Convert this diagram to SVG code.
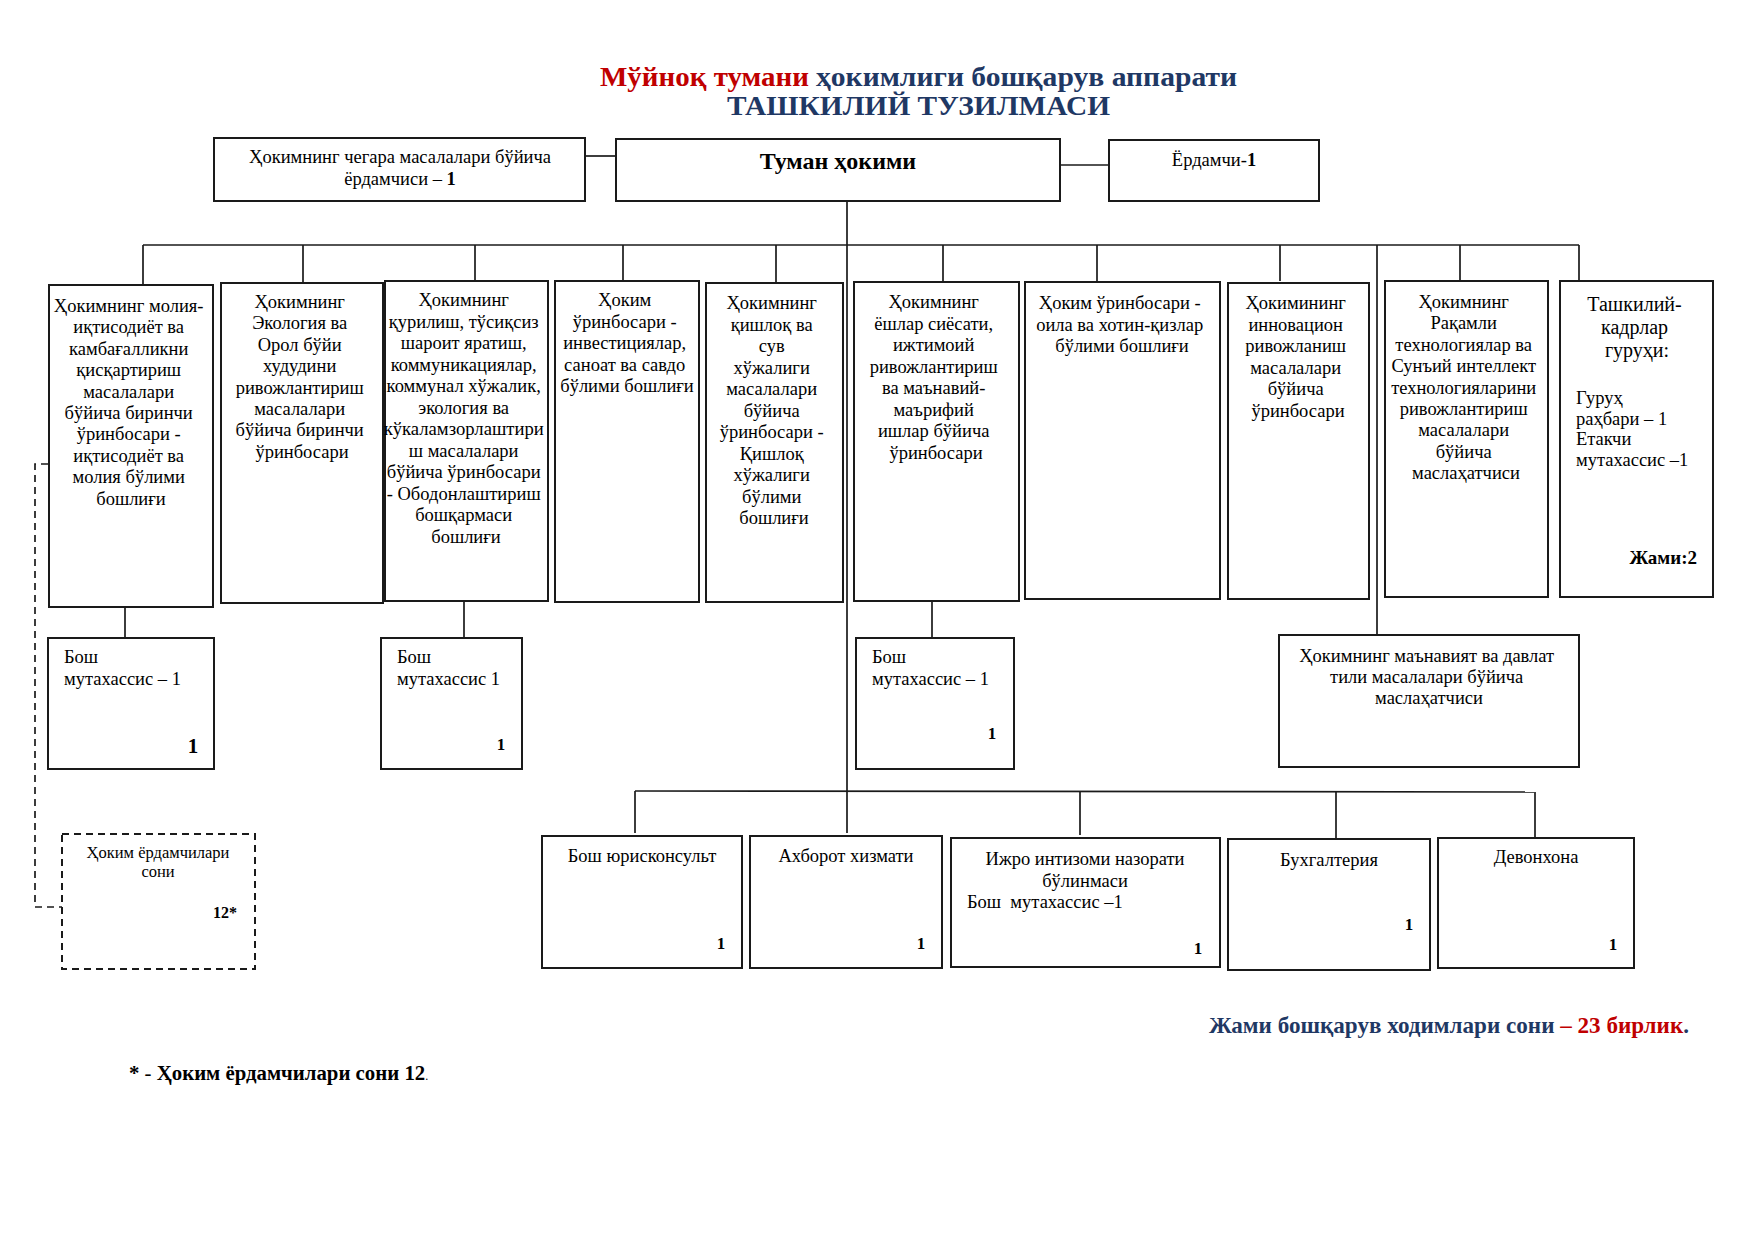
<svg xmlns="http://www.w3.org/2000/svg" width="1755" height="1241" viewBox="0 0 1755 1241">
<style>
.bx{fill:#fff;stroke:#1a1a1a;stroke-width:2}
.dbx{fill:#fff;stroke:#1a1a1a;stroke-width:2;stroke-dasharray:7 5}
.ln{fill:none;stroke:#1a1a1a;stroke-width:1.7}
.dl{fill:none;stroke:#1a1a1a;stroke-width:1.7;stroke-dasharray:7 5}
text{font-family:"Liberation Serif","Times New Roman",serif;fill:#000}
.t{font-size:18.5px}
.c{text-anchor:middle}
.b{font-weight:bold}
.navy{fill:#1F3864}
.red{fill:#C00000}
</style>
<rect width="1755" height="1241" fill="#fff"/>

<g id="title">
<text x="600" y="86" class="b red" font-size="28" textLength="209" lengthAdjust="spacingAndGlyphs">Мўйноқ тумани</text>
<text x="816" y="86" class="b navy" font-size="28" textLength="421" lengthAdjust="spacingAndGlyphs">ҳокимлиги бошқарув аппарати</text>
<text x="727" y="115" class="b navy" font-size="27" textLength="383" lengthAdjust="spacingAndGlyphs">ТАШКИЛИЙ ТУЗИЛМАСИ</text>
</g>

<g id="connectors">
<line class="ln" x1="585" y1="156" x2="616" y2="156"/>
<line class="ln" x1="1060" y1="165" x2="1109" y2="165"/>
<line class="ln" x1="847" y1="201" x2="847" y2="833"/>
<line class="ln" x1="143" y1="245" x2="1579" y2="245"/>
<line class="ln" x1="143" y1="245" x2="143" y2="285"/>
<line class="ln" x1="303" y1="245" x2="303" y2="283"/>
<line class="ln" x1="475" y1="245" x2="475" y2="281"/>
<line class="ln" x1="623" y1="245" x2="623" y2="281"/>
<line class="ln" x1="776" y1="245" x2="776" y2="283"/>
<line class="ln" x1="943" y1="245" x2="943" y2="282"/>
<line class="ln" x1="1097" y1="245" x2="1097" y2="282"/>
<line class="ln" x1="1280" y1="245" x2="1280" y2="281"/>
<line class="ln" x1="1377" y1="245" x2="1377" y2="635"/>
<line class="ln" x1="1460" y1="245" x2="1460" y2="281"/>
<line class="ln" x1="1579" y1="245" x2="1579" y2="281"/>
<line class="ln" x1="125" y1="607" x2="125" y2="638"/>
<line class="ln" x1="464" y1="601" x2="464" y2="638"/>
<line class="ln" x1="932" y1="601" x2="932" y2="638"/>
<line class="ln" x1="635" y1="791" x2="1534" y2="792"/>
<line class="ln" x1="635" y1="791" x2="635" y2="833"/>
<line class="ln" x1="1080" y1="791" x2="1080" y2="835"/>
<line class="ln" x1="1336" y1="791" x2="1336" y2="839"/>
<line class="ln" x1="1535" y1="792" x2="1535" y2="838"/>
<polyline class="dl" points="48,464 35,464 35,907 62,907"/>
</g>

<g id="n-chegara">
<rect class="bx" x="214" y="138" width="371" height="63"/>
<text class="t c" x="400" y="163">Ҳокимнинг чегара масалалари бўйича</text>
<text class="t c" x="400" y="185">ёрдамчиси – <tspan class="b">1</tspan></text>
</g>

<g id="n-hokim">
<rect class="bx" x="616" y="139" width="444" height="62"/>
<text class="c b" x="838" y="169" font-size="24">Туман ҳокими</text>
</g>

<g id="n-yordamchi">
<rect class="bx" x="1109" y="140" width="210" height="61"/>
<text class="t c" x="1214" y="166">Ёрдамчи-<tspan class="b">1</tspan></text>
</g>

<g id="n-moliya">
<rect class="bx" x="49" y="285" width="164" height="322"/>
<text class="t c" y="312">
<tspan x="131">Ҳокимнинг молия-</tspan>
<tspan x="131" dy="21.4">иқтисодиёт ва</tspan>
<tspan x="131" dy="21.4">камбағалликни</tspan>
<tspan x="131" dy="21.4">қисқартириш</tspan>
<tspan x="131" dy="21.4">масалалари</tspan>
<tspan x="131" dy="21.4">бўйича биринчи</tspan>
<tspan x="131" dy="21.4">ўринбосари -</tspan>
<tspan x="131" dy="21.4">иқтисодиёт ва</tspan>
<tspan x="131" dy="21.4">молия бўлими</tspan>
<tspan x="131" dy="21.4">бошлиғи</tspan>
</text>
</g>

<g id="n-ekologiya">
<rect class="bx" x="221" y="283" width="162" height="320"/>
<text class="t c" y="308">
<tspan x="302">Ҳокимнинг</tspan>
<tspan x="302" dy="21.4">Экология ва</tspan>
<tspan x="302" dy="21.4">Орол бўйи</tspan>
<tspan x="302" dy="21.4">худудини</tspan>
<tspan x="302" dy="21.4">ривожлантириш</tspan>
<tspan x="302" dy="21.4">масалалари</tspan>
<tspan x="302" dy="21.4">бўйича биринчи</tspan>
<tspan x="302" dy="21.4">ўринбосари</tspan>
</text>
</g>

<g id="n-qurilish">
<rect class="bx" x="385" y="281" width="163" height="320"/>
<text class="t c" y="306">
<tspan x="466">Ҳокимнинг</tspan>
<tspan x="466" dy="21.5">қурилиш, тўсиқсиз</tspan>
<tspan x="466" dy="21.5">шароит яратиш,</tspan>
<tspan x="466" dy="21.5">коммуникациялар,</tspan>
<tspan x="466" dy="21.5">коммунал хўжалик,</tspan>
<tspan x="466" dy="21.5">экология ва</tspan>
<tspan x="466" dy="21.5" textLength="160" lengthAdjust="spacingAndGlyphs">кўкаламзорлаштири</tspan>
<tspan x="466" dy="21.5">ш масалалари</tspan>
<tspan x="466" dy="21.5">бўйича ўринбосари</tspan>
<tspan x="466" dy="21.5">- Ободонлаштириш</tspan>
<tspan x="466" dy="21.5">бошқармаси</tspan>
<tspan x="466" dy="21.5">бошлиғи</tspan>
</text>
</g>

<g id="n-investitsiya">
<rect class="bx" x="555" y="281" width="144" height="321"/>
<text class="t c" y="306">
<tspan x="627">Ҳоким</tspan>
<tspan x="627" dy="21.5">ўринбосари -</tspan>
<tspan x="627" dy="21.5">инвестициялар,</tspan>
<tspan x="627" dy="21.5">саноат ва савдо</tspan>
<tspan x="627" dy="21.5">бўлими бошлиғи</tspan>
</text>
</g>

<g id="n-qishloq">
<rect class="bx" x="706" y="283" width="137" height="319"/>
<text class="t c" y="309">
<tspan x="774">Ҳокимнинг</tspan>
<tspan x="774" dy="21.5">қишлоқ ва</tspan>
<tspan x="774" dy="21.5">сув</tspan>
<tspan x="774" dy="21.5">хўжалиги</tspan>
<tspan x="774" dy="21.5">масалалари</tspan>
<tspan x="774" dy="21.5">бўйича</tspan>
<tspan x="774" dy="21.5">ўринбосари -</tspan>
<tspan x="774" dy="21.5">Қишлоқ</tspan>
<tspan x="774" dy="21.5">хўжалиги</tspan>
<tspan x="774" dy="21.5">бўлими</tspan>
<tspan x="774" dy="21.5">бошлиғи</tspan>
</text>
</g>

<g id="n-yoshlar">
<rect class="bx" x="854" y="282" width="165" height="319"/>
<text class="t c" y="308">
<tspan x="936">Ҳокимнинг</tspan>
<tspan x="936" dy="21.5">ёшлар сиёсати,</tspan>
<tspan x="936" dy="21.5">ижтимоий</tspan>
<tspan x="936" dy="21.5">ривожлантириш</tspan>
<tspan x="936" dy="21.5">ва маънавий-</tspan>
<tspan x="936" dy="21.5">маърифий</tspan>
<tspan x="936" dy="21.5">ишлар бўйича</tspan>
<tspan x="936" dy="21.5">ўринбосари</tspan>
</text>
</g>

<g id="n-oila">
<rect class="bx" x="1025" y="282" width="195" height="317"/>
<text class="t c" y="309">
<tspan x="1122">Ҳоким ўринбосари -</tspan>
<tspan x="1122" dy="21.5">оила ва хотин-қизлар</tspan>
<tspan x="1122" dy="21.5">бўлими бошлиғи</tspan>
</text>
</g>

<g id="n-innovatsion">
<rect class="bx" x="1228" y="283" width="141" height="316"/>
<text class="t c" y="309">
<tspan x="1298">Ҳокимининг</tspan>
<tspan x="1298" dy="21.5">инновацион</tspan>
<tspan x="1298" dy="21.5">ривожланиш</tspan>
<tspan x="1298" dy="21.5">масалалари</tspan>
<tspan x="1298" dy="21.5">бўйича</tspan>
<tspan x="1298" dy="21.5">ўринбосари</tspan>
</text>
</g>

<g id="n-raqamli">
<rect class="bx" x="1385" y="281" width="163" height="316"/>
<text class="t c" y="308">
<tspan x="1466">Ҳокимнинг</tspan>
<tspan x="1466" dy="21.4">Рақамли</tspan>
<tspan x="1466" dy="21.4">технологиялар ва</tspan>
<tspan x="1466" dy="21.4">Сунъий интеллект</tspan>
<tspan x="1466" dy="21.4">технологияларини</tspan>
<tspan x="1466" dy="21.4">ривожлантириш</tspan>
<tspan x="1466" dy="21.4">масалалари</tspan>
<tspan x="1466" dy="21.4">бўйича</tspan>
<tspan x="1466" dy="21.4">маслаҳатчиси</tspan>
</text>
</g>

<g id="n-tashkiliy">
<rect class="bx" x="1560" y="281" width="153" height="316"/>
<text class="c" font-size="20" y="311">
<tspan x="1637">Ташкилий-</tspan>
<tspan x="1637" dy="23">кадрлар</tspan>
<tspan x="1637" dy="23">гуруҳи:</tspan>
</text>
<text class="t" y="404">
<tspan x="1576">Гуруҳ</tspan>
<tspan x="1576" dy="20.7">раҳбари – 1</tspan>
<tspan x="1576" dy="20.7">Етакчи</tspan>
<tspan x="1576" dy="20.7">мутахассис –1</tspan>
</text>
<text class="b" font-size="19" x="1697" y="564" text-anchor="end">Жами:2</text>
</g>

<g id="n-bosh-a">
<rect class="bx" x="48" y="638" width="166" height="131"/>
<text class="t" y="663"><tspan x="64">Бош</tspan><tspan x="64" dy="22">мутахассис – 1</tspan></text>
<text class="b c" font-size="21" x="193" y="753">1</text>
</g>

<g id="n-bosh-b">
<rect class="bx" x="381" y="638" width="141" height="131"/>
<text class="t" y="663"><tspan x="397">Бош</tspan><tspan x="397" dy="22">мутахассис 1</tspan></text>
<text class="b c" font-size="17" x="501" y="750">1</text>
</g>

<g id="n-bosh-c">
<rect class="bx" x="856" y="638" width="158" height="131"/>
<text class="t" y="663"><tspan x="872">Бош</tspan><tspan x="872" dy="22">мутахассис – 1</tspan></text>
<text class="b c" font-size="17" x="992" y="739">1</text>
</g>

<g id="n-manaviyat">
<rect class="bx" x="1279" y="635" width="300" height="132"/>
<text class="t c" y="662">
<tspan x="1429">Ҳокимнинг маънавият ва давлат</tspan>
<tspan x="1429" dy="21">тили масалалари бўйича</tspan>
<tspan x="1429" dy="21">маслаҳатчиси</tspan>
</text>
</g>

<g id="n-yordamchilar">
<rect class="dbx" x="62" y="834" width="193" height="135"/>
<text class="c" font-size="16.5" y="858"><tspan x="158">Ҳоким ёрдамчилари</tspan><tspan x="158" dy="19">сони</tspan></text>
<text class="b c" font-size="16" x="225" y="918">12*</text>
</g>

<g id="n-yuriskonsult">
<rect class="bx" x="542" y="836" width="200" height="132"/>
<text class="t c" x="642" y="862">Бош юрисконсульт</text>
<text class="b c" font-size="17" x="721" y="949">1</text>
</g>

<g id="n-axborot">
<rect class="bx" x="750" y="836" width="192" height="132"/>
<text class="t c" x="846" y="862">Ахборот хизмати</text>
<text class="b c" font-size="17" x="921" y="949">1</text>
</g>

<g id="n-ijro">
<rect class="bx" x="951" y="838" width="269" height="129"/>
<text class="t c" x="1085" y="865">Ижро интизоми назорати</text>
<text class="t c" x="1085" y="887">бўлинмаси</text>
<text class="t" x="967" y="908" xml:space="preserve">Бош  мутахассис –1</text>
<text class="b c" font-size="17" x="1198" y="954">1</text>
</g>

<g id="n-buxgalteriya">
<rect class="bx" x="1228" y="839" width="202" height="131"/>
<text class="t c" x="1329" y="866">Бухгалтерия</text>
<text class="b c" font-size="17" x="1409" y="930">1</text>
</g>

<g id="n-devonxona">
<rect class="bx" x="1438" y="838" width="196" height="130"/>
<text class="t c" x="1536" y="863">Девонхона</text>
<text class="b c" font-size="17" x="1613" y="950">1</text>
</g>

<g id="summary">
<text class="b" font-size="23" x="1209" y="1033" textLength="480" lengthAdjust="spacingAndGlyphs"><tspan class="navy">Жами бошқарув ходимлари сони </tspan><tspan class="red">– 23 бирлик</tspan><tspan class="navy">.</tspan></text>
<text font-size="20.8" x="129" y="1080"><tspan class="b">*</tspan> - <tspan class="b">Ҳоким ёрдамчилари сони 12</tspan><tspan font-size="12">.</tspan></text>
</g>
</svg>
